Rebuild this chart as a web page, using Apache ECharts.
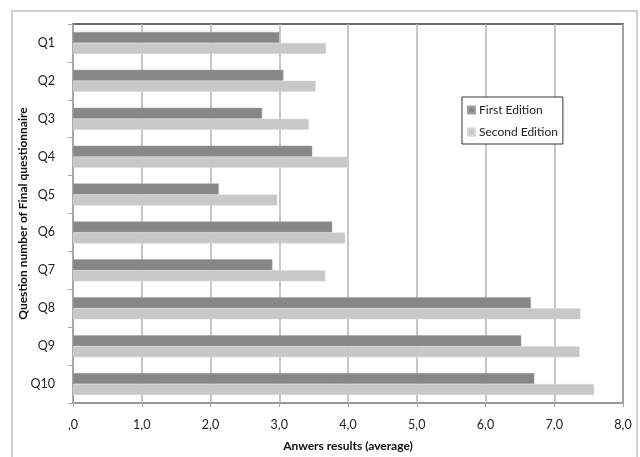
<!DOCTYPE html>
<html>
<head>
<meta charset="utf-8">
<script src="https://cdn.jsdelivr.net/npm/echarts@6/dist/echarts.min.js"></script>
<style>
html,body{margin:0;padding:0;background:#fff;}
#chart{width:640px;height:457px;}
</style>
</head>
<body>
<div id="chart"></div>
<script>
var categories = ['Q1','Q2','Q3','Q4','Q5','Q6','Q7','Q8','Q9','Q10'];
var firstEdition = [3.00, 3.06, 2.75, 3.48, 2.12, 3.77, 2.90, 6.66, 6.52, 6.71];
var secondEdition = [3.68, 3.53, 3.43, 3.99, 2.97, 3.96, 3.67, 7.38, 7.37, 7.58];
var seriesNames = ['First Edition', 'Second Edition'];
var xTicks = [0,1,2,3,4,5,6,7,8];

var FONT = 'Lato, "Liberation Sans", sans-serif';
var chart = echarts.init(document.getElementById('chart'), null, {renderer:'canvas'});
chart.setOption({
  animation: false,
  backgroundColor: '#fff',
  textStyle: {fontFamily: FONT},
  graphic: [{
    type: 'rect',
    shape: {x: 12, y: 11, width: 625, height: 460},
    style: {fill: 'none', stroke: '#d0d0d0', lineWidth: 2},
    silent: true
  }],
  legend: {
    orient: 'vertical',
    left: 462, top: 97,
    data: seriesNames,
    icon: 'rect',
    itemWidth: 7, itemHeight: 7,
    itemGap: 10,
    padding: [7, 5, 6, 5],
    borderColor: '#333', borderWidth: 1,
    backgroundColor: '#fff',
    textStyle: {fontFamily: FONT, fontSize: 12, color: '#222', padding: [0,0,0,-1]}
  },
  grid: {
    left: 73, right: 17, top: 24, bottom: 53,
    show: true, borderColor: '#3a3a3a', borderWidth: 1.5, backgroundColor: 'transparent'
  },
  xAxis: {
    type: 'value',
    min: 0, max: 8, interval: 1,
    name: 'Anwers results (average)',
    nameLocation: 'middle', nameGap: 37, nameMoveOverlap: false,
    nameTextStyle: {fontFamily: FONT, fontWeight: 'bold', fontSize: 12, color: '#111'},
    axisLine: {show: true, lineStyle: {color: '#a8a8a8', width: 1.5}},
    axisTick: {show: true, length: 4, lineStyle: {color: '#a8a8a8'}},
    axisLabel: {
      fontFamily: FONT, fontSize: 12.5, color: '#222', margin: 15,
      formatter: function(v){ return v === 0 ? ',0' : v.toFixed(1).replace('.', ','); }
    },
    splitLine: {show: true, lineStyle: {color: '#b4b4b4', width: 1.5}}
  },
  yAxis: {
    type: 'category',
    data: categories,
    inverse: true,
    name: 'Question number of Final questionnaire',
    nameLocation: 'middle', nameGap: 44, nameRotate: 90, nameMoveOverlap: false,
    nameTextStyle: {fontFamily: FONT, fontWeight: 'bold', fontSize: 12, color: '#111'},
    axisLine: {show: true, lineStyle: {color: '#a8a8a8', width: 1.5}},
    axisTick: {show: true, length: 5, lineStyle: {color: '#a8a8a8'}},
    axisLabel: {fontFamily: FONT, fontSize: 12.5, color: '#222', margin: 18}
  },
  series: [{
    name: seriesNames[0], type: 'bar', data: firstEdition,
    barGap: '0%', barCategoryGap: '42%',
    itemStyle: {color: '#878787', borderColor: '#a0a0a0', borderWidth: 0.5}
  },{
    name: seriesNames[1], type: 'bar', data: secondEdition,
    barGap: '0%', barCategoryGap: '42%',
    itemStyle: {color: '#c8c8c8', borderColor: '#d8d8d8', borderWidth: 0.5}
  }]
});
</script>
</body>
</html>
